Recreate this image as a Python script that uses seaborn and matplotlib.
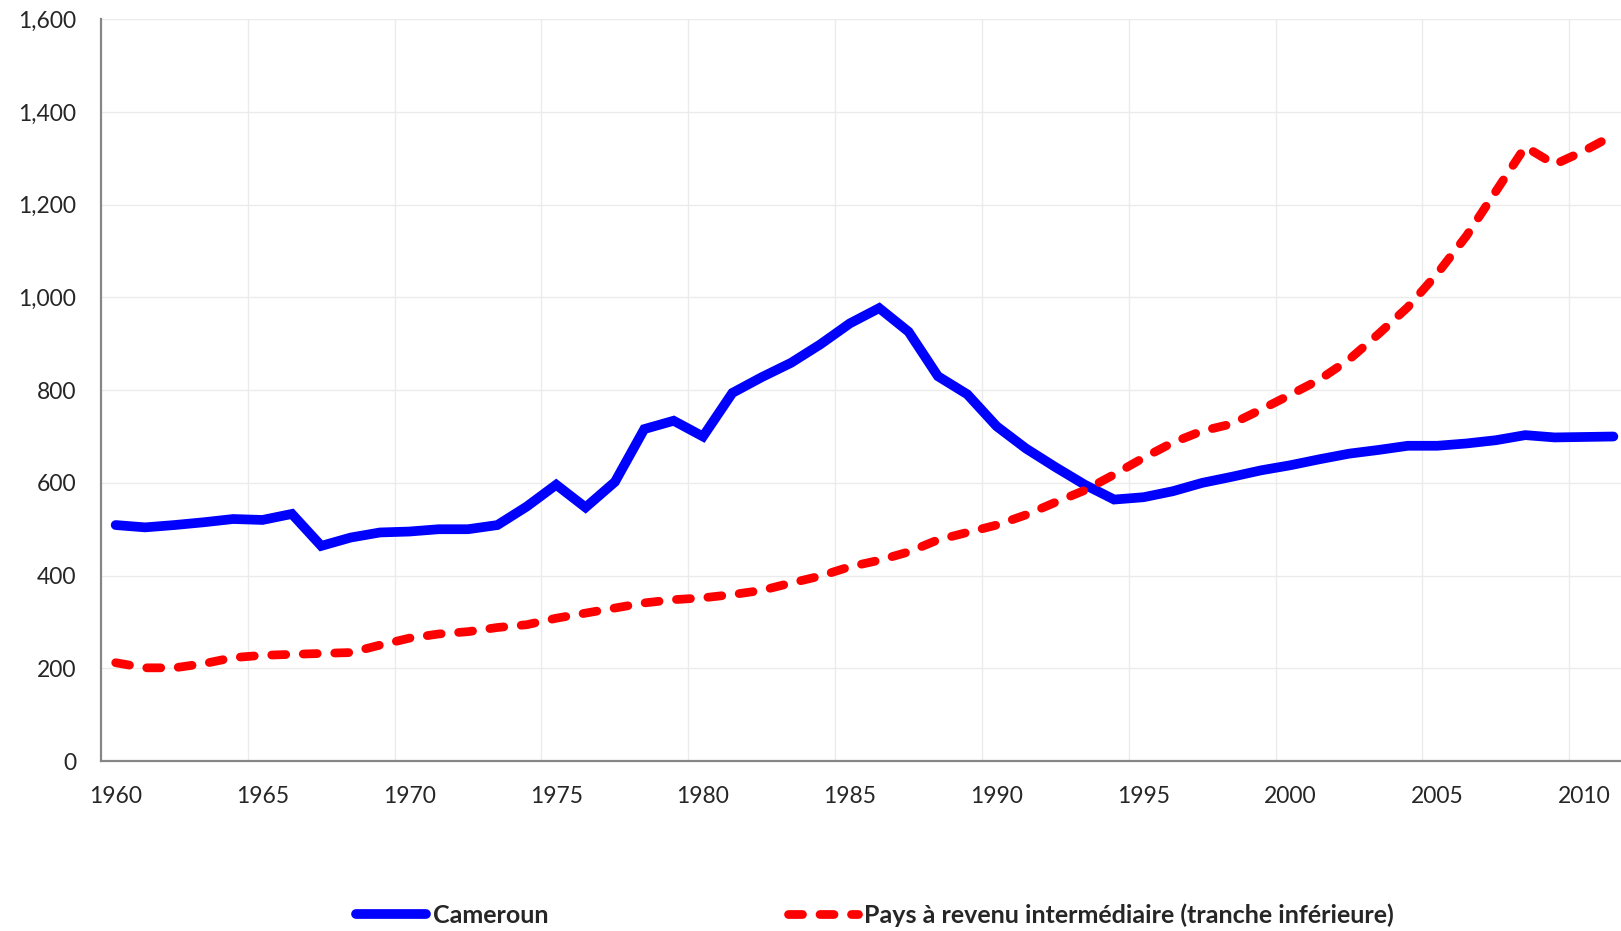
import numpy as np
import pandas as pd
import matplotlib
matplotlib.use("Agg")
import matplotlib.pyplot as plt
from matplotlib.ticker import FuncFormatter, FixedLocator
import seaborn as sns

# Données
years = list(range(1960, 2012))
cameroun = [509, 504, 509, 515, 522, 520, 533, 464, 482, 493,
            495, 500, 500, 509, 549, 596, 547, 602, 716, 734,
            700, 794, 828, 859, 899, 944, 977, 926, 830, 791,
            722, 674, 634, 596, 564, 569, 582, 600, 613, 627,
            638, 651, 663, 671, 680, 680, 685, 692, 703, 698,
            699, 700]
pays_intermediaires = [212, 201, 201, 210, 223, 228, 230, 232, 234, 250,
                       265, 274, 279, 288, 294, 308, 319, 330, 341, 348,
                       352, 359, 368, 384, 399, 419, 433, 451, 477, 493,
                       509, 531, 558, 584, 618, 654, 687, 712, 727, 758,
                       790, 823, 866, 921, 979, 1051, 1133, 1229, 1325, 1287,
                       1316, 1350]
label_cmr = "Cameroun"
label_pri = "Pays à revenu intermédiaire (tranche inférieure)"

df = pd.DataFrame({"annee": years, "cmr": cameroun, "pri": pays_intermediaires})

sns.set_style("white")
plt.rcParams['font.family'] = ['Lato', 'DejaVu Sans']

fig = plt.figure(figsize=(16.21, 9.31), dpi=100)
ax = fig.add_axes([101 / 1621, 1 - 761 / 931, 1 - 101 / 1621, (761 - 19.3) / 931])

sns.lineplot(data=df, x="annee", y="cmr", ax=ax, color="#0000ff", linewidth=7,
             label=label_cmr, solid_capstyle="round", solid_joinstyle="miter")
sns.lineplot(data=df, x="annee", y="pri", ax=ax, color="#ff0000", linewidth=6.3,
             label=label_pri, dashes=False)
red = ax.lines[1]
red.set_dashes((1.6, 2.0))
red.set_dash_capstyle("round")

ax.set_xlim(1959.5, 2011.26)
ax.set_ylim(0, 1600)

# graduations : marques aux limites de catégorie, étiquettes centrées
ax.xaxis.set_major_locator(FixedLocator(np.arange(1964.5, 2011, 5)))
ax.xaxis.set_minor_locator(FixedLocator(np.arange(1960, 2011, 5)))
ax.xaxis.set_major_formatter(FuncFormatter(lambda v, p: ""))
ax.xaxis.set_minor_formatter(FuncFormatter(lambda v, p: f"{int(round(v))}"))
ax.tick_params(axis="x", which="major", direction="in", length=6.5, width=1.5,
               color="#868686")
ax.tick_params(axis="x", which="minor", length=0, pad=18, labelsize=16.5)

ax.set_yticks(np.arange(0, 1601, 200))
ax.yaxis.set_major_formatter(FuncFormatter(lambda v, p: f"{int(v):,}"))
ax.tick_params(axis="y", direction="in", length=6.5, width=1.5, color="#868686",
               pad=18, labelsize=16.5)

ax.grid(True, which="major", color="#ebebeb", linewidth=1)
ax.set_axisbelow(True)
for s in ["top", "right"]:
    ax.spines[s].set_visible(False)
for s in ["left", "bottom"]:
    ax.spines[s].set_color("#868686")
    ax.spines[s].set_linewidth(1.6)

ax.set_xlabel("")
ax.set_ylabel("")

handles, labels = ax.get_legend_handles_labels()
ax.get_legend().remove()
fig.legend(handles, labels, loc="center", bbox_to_anchor=(0.54, 0.017), ncol=2,
           frameon=False, prop={"weight": "bold", "size": 18},
           handlelength=2.8, handletextpad=0.25, columnspacing=9.6)

fig.savefig("out.png", dpi=100)
